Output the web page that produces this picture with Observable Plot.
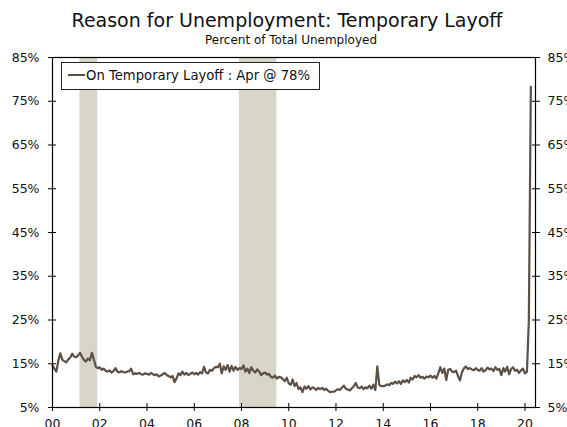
<!DOCTYPE html>
<html>
<head>
<meta charset="utf-8">
<script src="https://cdn.jsdelivr.net/npm/d3@7"></script>
<script src="https://cdn.jsdelivr.net/npm/@observablehq/plot@0.6"></script>
<style>
  body { margin: 0; background: #fff; font-family: "DejaVu Sans", Verdana, sans-serif; }
  #wrap { position: relative; width: 567px; }
  #head { position: relative; height: 40px; }
  #title { position: absolute; left: 0; width: 574px; top: 11px; text-align: center; font-size: 19px; line-height: 19px; color: #111; white-space: nowrap; }
  #sub { position: absolute; left: 0; width: 582px; top: 34px; text-align: center; font-size: 12px; line-height: 12px; color: #111; white-space: nowrap; }
  #legend { position: absolute; left: 61px; top: 62px; width: 259px; height: 28px; background: #fff;
    border: 1px solid #222; box-sizing: border-box; font-size: 13.2px; line-height: 26px; color: #111; white-space: nowrap; }
  #legend .sw { display: inline-block; width: 17px; height: 2px; background: #5b5047; vertical-align: middle; margin-left: 6px; margin-right: 1px; position: relative; top: -1px; }
</style>
</head>
<body>
<div id="wrap">
  <div id="head">
    <div id="title">Reason for Unemployment: Temporary Layoff</div>
    <div id="sub">Percent of Total Unemployed</div>
  </div>
  <div id="chart"></div>
  <div id="legend"><span class="sw"></span>On Temporary Layoff : Apr @ 78%</div>
</div>
<script>
// Monthly values, Jan 2000 – Apr 2020 (percent of total unemployed on temporary layoff)
const startYear = 2000;
const values = [
  // 2000
  14.6, 13.8, 13.2, 15.8, 17.4, 15.9, 15.6, 15.3, 16.0, 16.4, 17.3, 16.6,
  // 2001
  16.5, 16.9, 17.5, 16.6, 15.9, 15.5, 16.2, 15.8, 17.5, 16.0, 14.3, 14.0,
  // 2002
  14.2, 13.6, 13.9, 13.4, 13.2, 13.5, 13.0, 13.3, 14.0, 13.2, 13.0, 13.3,
  // 2003
  13.1, 13.0, 13.2, 13.3, 13.9, 12.6, 12.8, 12.7, 12.9, 12.6, 12.5, 12.8,
  // 2004
  12.7, 12.5, 12.9, 12.6, 12.4, 12.6, 12.1, 12.3, 12.6, 12.9, 12.4, 12.2,
  // 2005
  11.9, 12.2, 10.8, 11.6, 12.8, 12.4, 13.2, 12.5, 12.9, 12.4, 12.7, 13.0,
  // 2006
  12.6, 12.9, 12.5, 13.1, 12.8, 14.3, 13.0, 12.8, 13.6, 13.4, 14.0, 14.3,
  // 2007
  14.2, 15.0, 12.8, 14.4, 13.6, 14.7, 13.2, 14.5, 13.4, 14.3, 13.6, 14.0,
  // 2008
  13.8, 14.6, 13.2, 13.9, 12.9, 14.2, 13.4, 13.0, 13.7, 13.2, 12.4, 12.8,
  // 2009
  13.0, 12.5, 12.7, 12.0, 11.8, 12.3, 11.6, 12.0, 11.9, 11.5, 11.0, 11.8,
  // 2010
  10.5, 10.2, 11.4, 9.9, 10.6, 9.2, 9.6, 8.5, 9.8, 9.3, 9.9, 9.1,
  // 2011
  9.6, 9.4, 9.0, 9.5, 9.2, 9.5, 9.0, 9.3, 8.8, 8.5, 8.6, 8.6,
  // 2012
  8.9, 9.2, 9.0, 9.5, 10.0, 9.3, 9.1, 8.9, 9.4, 9.8, 10.6, 9.6,
  // 2013
  9.4, 9.8, 9.2, 9.6, 9.4, 10.0, 9.3, 10.2, 9.0, 14.4, 10.2, 9.9,
  // 2014
  9.9, 10.0, 10.3, 10.1, 10.6, 10.4, 10.9, 10.5, 11.0, 10.4, 11.2, 10.8,
  // 2015
  11.3, 10.7, 11.8, 11.4, 12.2, 11.9, 12.4, 11.8, 12.0, 11.6, 12.1, 11.9,
  // 2016
  12.3, 11.8, 12.2, 11.6, 12.8, 14.2, 12.9, 13.9, 11.3, 13.6, 13.8, 13.2,
  // 2017
  13.1, 13.4, 12.2, 11.2, 13.0, 13.9, 14.4, 13.8, 14.0, 13.7, 13.5, 14.0,
  // 2018
  13.6, 13.4, 14.0, 13.2, 13.5, 14.1, 13.7, 13.9, 13.3, 14.2, 13.6, 13.8,
  // 2019
  12.4, 14.0, 13.2, 14.3, 12.6, 13.8, 14.2, 13.4, 13.6, 12.9, 13.5, 13.9,
  // 2020
  12.8, 13.2, 24.9, 78.3
];

const recessionStart = ["2001-03-01", "2007-12-01"];
const recessionEnd   = ["2001-11-30", "2009-06-30"];

const yTicks = [5, 15, 25, 35, 45, 55, 65, 75, 85];
const xTickYears = [2000, 2002, 2004, 2006, 2008, 2010, 2012, 2014, 2016, 2018, 2020];

const data = values.map((v, i) => ({
  date: new Date(Date.UTC(startYear + Math.floor(i / 12), i % 12, 1)),
  value: v
}));
const recessions = recessionStart.map((s, i) => ({ start: new Date(s), end: new Date(recessionEnd[i]) }));
const xTicks = xTickYears.map(y => new Date(Date.UTC(y, 0, 1)));

const lineColor = "#5b5047";
const fmtPct = d => d + "%";

const chart = Plot.plot({
  width: 567,
  height: 397,
  marginTop: 17,
  marginLeft: 52,
  marginRight: 32,
  marginBottom: 30,
  style: { fontFamily: "DejaVu Sans, Verdana, sans-serif", fontSize: "12.5px", color: "#111", background: "#fff" },
  x: { type: "utc", domain: [new Date(Date.UTC(2000, 0, 1)), new Date(Date.UTC(2020, 5, 12))] },
  y: { domain: [5, 85] },
  marks: [
    Plot.rect(recessions, { x1: "start", x2: "end", fill: "#d7d4c8" }),
    Plot.line(data, { x: "date", y: "value", stroke: lineColor, strokeWidth: 2.2 }),
    Plot.frame({ stroke: "#000", strokeWidth: 1.2 }),
    Plot.axisY(yTicks, { anchor: "left", tickSize: 4, tickPadding: 9, tickFormat: fmtPct, label: null, stroke: "#000" }),
    Plot.axisY(yTicks, { anchor: "left", tickSize: 4, dx: 4, text: null, label: null, stroke: "#000" }),
    Plot.axisY(yTicks, { anchor: "right", tickSize: 4, tickPadding: 8, tickFormat: fmtPct, label: null, stroke: "#000" }),
    Plot.axisY(yTicks, { anchor: "right", tickSize: 4, dx: -4, text: null, label: null, stroke: "#000" }),
    Plot.axisX(xTicks, { anchor: "bottom", tickSize: 4, tickPadding: 8, tickFormat: d3.utcFormat("%y"), label: null, stroke: "#000" }),
    Plot.axisX(xTicks, { anchor: "bottom", tickSize: 4, dy: -4, text: null, label: null, stroke: "#000" })
  ]
});
document.getElementById("chart").appendChild(chart);
</script>
</body>
</html>
